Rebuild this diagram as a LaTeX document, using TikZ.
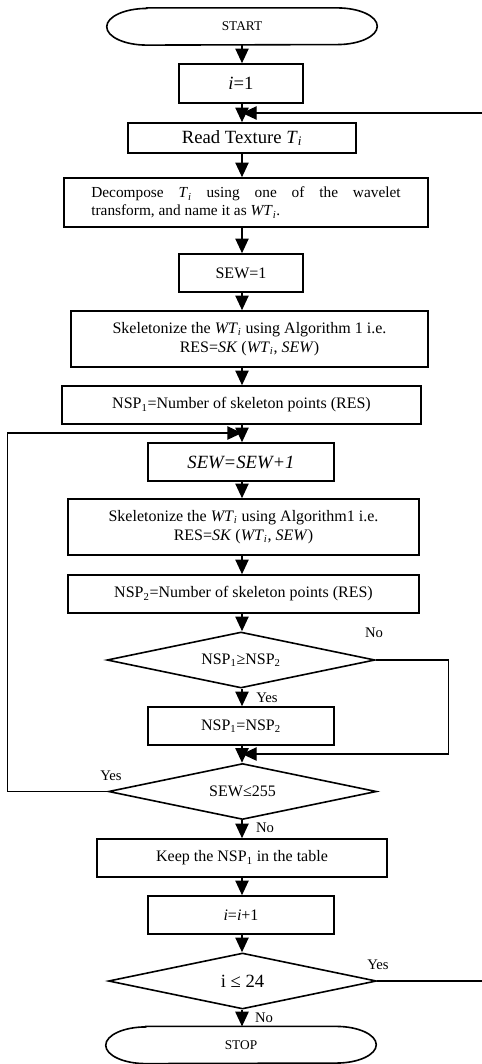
\documentclass[tikz,border=0pt]{standalone}
\usepackage{fontspec}
\setmainfont{Liberation Serif}
\usetikzlibrary{shapes.geometric,arrows.meta}

\begin{document}
\begin{tikzpicture}[x=0.75pt,y=-0.75pt,
        box/.style={draw,line width=1.2pt,minimum height=28.5pt,inner sep=2pt,font=\fontsize{12}{14}\selectfont},
        term/.style={minimum width=202.5pt,minimum height=27.5pt,font=\fontsize{10}{12}\selectfont},
        test/.style={draw,diamond,aspect=4.8,line width=1.2pt,inner sep=0pt,minimum width=201pt,minimum height=42pt,font=\fontsize{12}{14}\selectfont},
        lbl/.style={inner sep=0pt,font=\fontsize{11}{13}\selectfont},
        arr/.style={-{Triangle[width=10pt,length=11pt]},line width=1pt}]
        \useasboundingbox (0,0) rectangle (482,1064);

        \node[term] at (242,26.5) (start) {START};
        \node[box,minimum width=93pt,minimum height=29.25pt,font=\fontsize{14}{16}\selectfont] at (241,83.5) (init) {\textit{i}=1};
        \node[box,minimum width=171pt,minimum height=22.5pt,font=\fontsize{14}{16}\selectfont] at (242,138) (read) {Read Texture \textit{T}\textsubscript{\textit{i}}};
        \node[box,minimum width=273pt,minimum height=36.75pt,text width=232pt,align=justify,font=\fontsize{11.5}{13.5}\selectfont] at (246,202.5) (decomp) {Decompose \textit{T}\textsubscript{\textit{i}} using one of the wavelet\linebreak transform, and name it as \textit{WT}\textsubscript{\textit{i}}.};
        \node[box,minimum width=93pt] at (241,273) (sewone) {SEW=1};
        \node[box,minimum width=267.75pt,minimum height=42pt,align=center] at (249.5,339) (skelA) {Skeletonize the \textit{WT}\textsubscript{\textit{i}} using Algorithm 1 i.e.\\RES=\textit{SK} (\textit{WT}\textsubscript{\textit{i}}, \textit{SEW})};
        \node[box,minimum width=269.25pt] at (241.5,405) (nspA) {NSP\textsubscript{1}=Number of skeleton points (RES)};
        \node[box,minimum width=139.5pt,font=\fontsize{14}{16}\selectfont\itshape] at (241,462) (sewinc) {SEW=SEW+1};
        \node[box,minimum width=263.25pt,minimum height=42pt,align=center] at (243.5,527) (skelB) {Skeletonize the \textit{WT}\textsubscript{\textit{i}} using Algorithm1 i.e.\\RES=\textit{SK} (\textit{WT}\textsubscript{\textit{i}}, \textit{SEW})};
        \node[box,minimum width=263.25pt] at (243.5,594) (nspB) {NSP\textsubscript{2}=Number of skeleton points (RES)};
        \node[test] at (241,660) (cmp) {NSP\textsubscript{1}≥NSP\textsubscript{2}};
        \node[box,minimum width=139.5pt] at (241,726) (swap) {NSP\textsubscript{1}=NSP\textsubscript{2}};
        \node[test] at (242.5,791.5) (loop) {SEW≤255};
        \node[box,minimum width=217.5pt] at (242,858) (keep) {Keep the NSP\textsubscript{1} in the table};
        \node[box,minimum width=139.5pt] at (241,915) (inc) {\textit{i}=\textit{i}+1};
        \node[test,font=\fontsize{14}{16}\selectfont] at (242.5,981) (more) {i ≤ 24};
        \node[term] at (241,1045) (stop) {STOP};

        \foreach \t in {start,stop}
            \draw[line width=1.2pt] ([xshift=30pt]\t.north west) -- ([xshift=-30pt]\t.north east)
                arc[start angle=90,end angle=-90,x radius=30pt,y radius=13.75pt]
                -- ([xshift=30pt]\t.south west)
                arc[start angle=270,end angle=90,x radius=30pt,y radius=13.75pt] -- cycle;

        \coordinate (back) at (242,113);
        \coordinate (again) at (242,433);
        \coordinate (join) at (242,754);

        \foreach \a/\b in {start/init,init/read,read/decomp,decomp/sewone,sewone/skelA,skelA/nspA,nspA/sewinc,sewinc/skelB,skelB/nspB,nspB/cmp,cmp/swap,swap/loop,loop/keep,keep/inc,inc/more,more/stop}
            \draw[arr] (\a.south -| start) -- (\b.north -| start);

        \draw[arr] (more.east) -- ++(110,0) |- (back);
        \draw[arr] (loop.west) -- ++(-100,0) |- (again);
        \draw[arr] (cmp.east) -- ++(73,0) |- (join);

        \node[lbl] at (374,633) (cmpno) {No};
        \node[lbl] at (267,698) (cmpyes) {Yes};
        \node[lbl] at (111,776) (loopyes) {Yes};
        \node[lbl] at (265,828) (loopno) {No};
        \node[lbl] at (378,965) (moreyes) {Yes};
        \node[lbl] at (264,1018) (moreno) {No};
    \end{tikzpicture}
\end{document}
